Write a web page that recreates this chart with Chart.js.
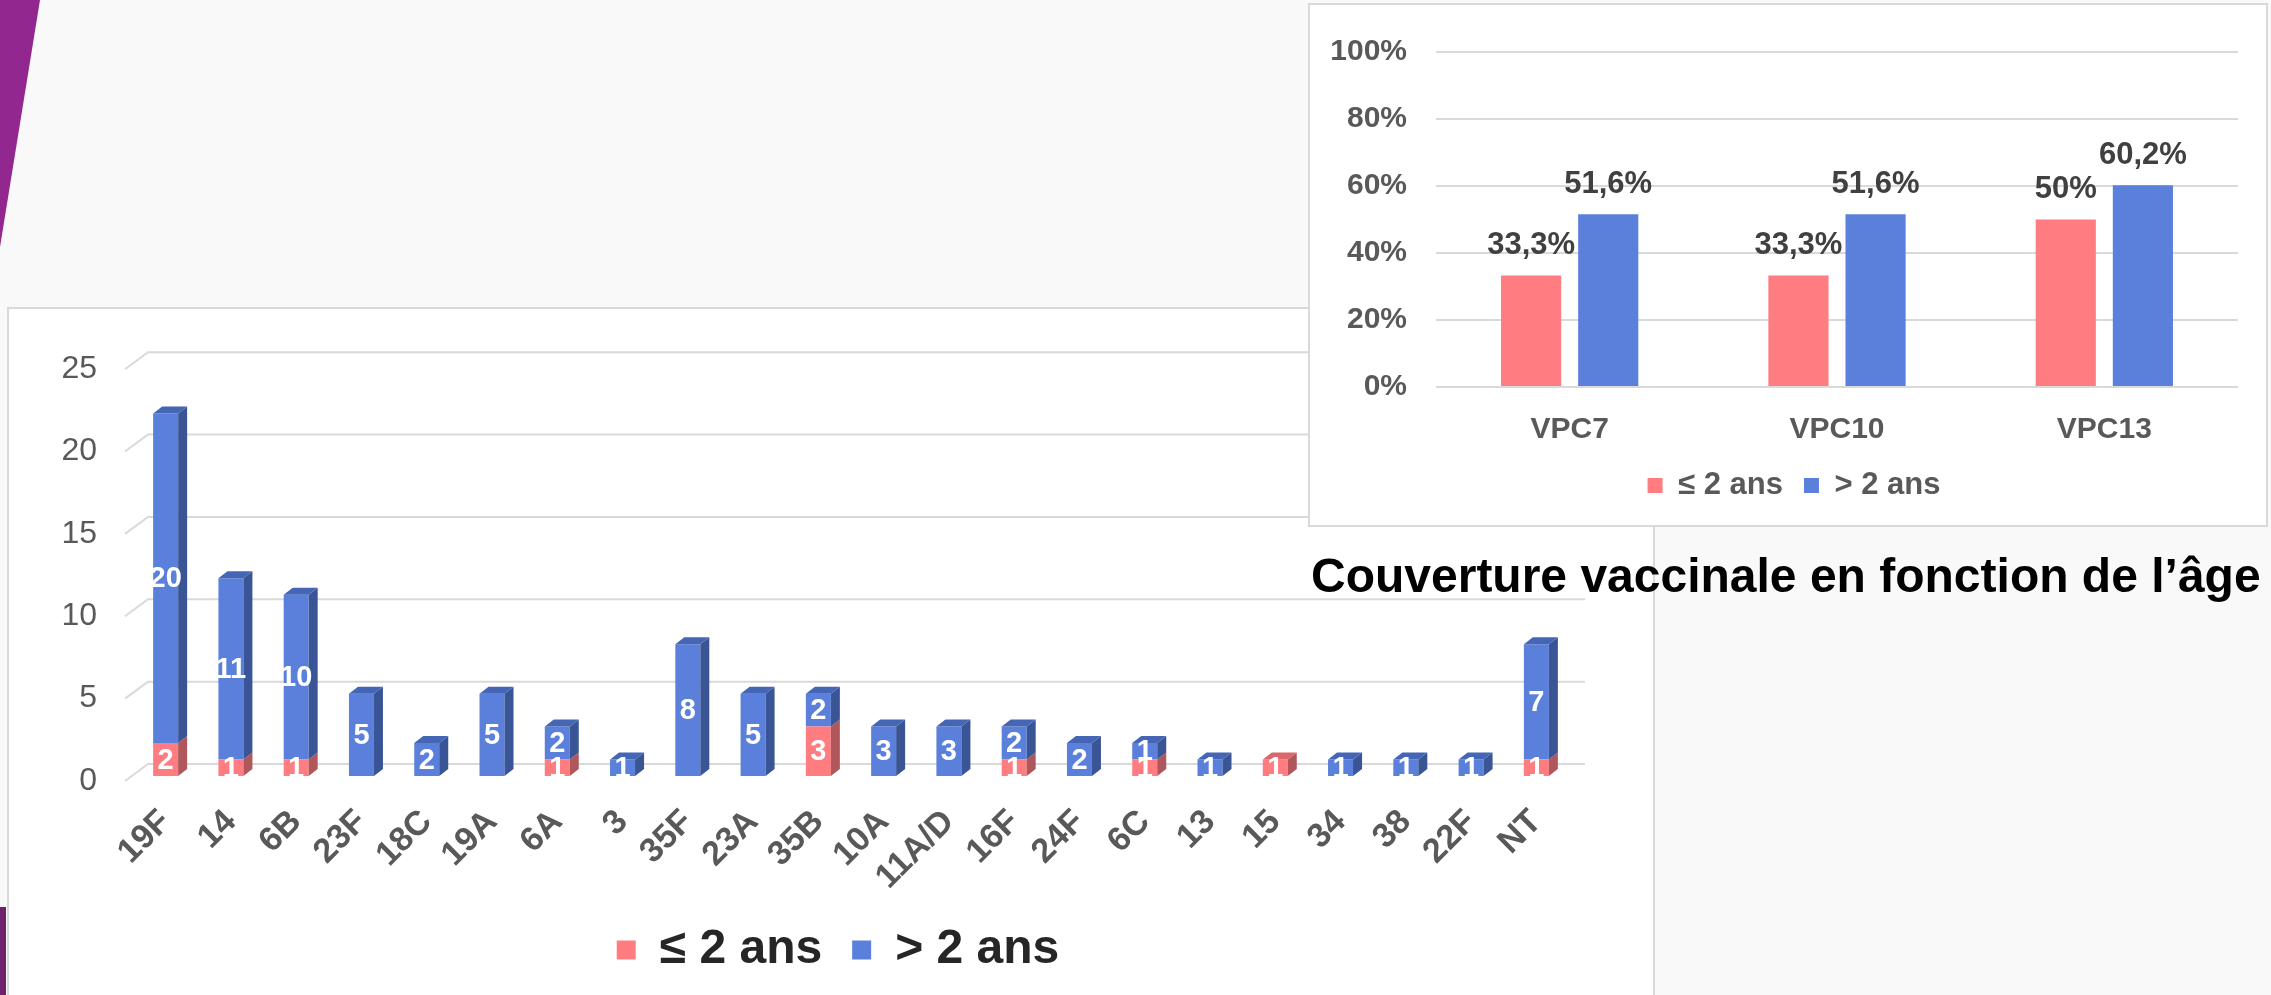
<!DOCTYPE html>
<html>
<head>
<meta charset="utf-8">
<script src="https://cdn.jsdelivr.net/npm/chart.js@4.4.0/dist/chart.umd.min.js"></script>
<style>
  body { margin: 0; width: 2271px; height: 995px; background: #f9f9f9; position: relative; overflow: hidden;
         font-family: "Liberation Sans", Arial, sans-serif; }
  .box { position: absolute; background: #fff; border: 2px solid #d9d9d9; box-sizing: border-box; }
  #leftBox { left: 7px; top: 307px; width: 1648px; height: 700px; z-index: 1; }
  #rightBox { left: 1308px; top: 3px; width: 960px; height: 524px; z-index: 2; }
  #leftWrap { position: absolute; left: 0; top: 0; width: 1644px; height: 686px; }
  #rightWrap { position: absolute; left: 0; top: 0; width: 956px; height: 520px; }
  #title { position: absolute; left: 1311px; top: 552px; line-height: 48px; font-size: 48px; font-weight: bold;
           color: #000; white-space: nowrap; z-index: 3; }
  #purpleTop { position: absolute; left: 0; top: 0; width: 40px; height: 247px; background: #92278f;
               clip-path: polygon(0 0, 100% 0, 0 100%); }
  #purpleBottom { position: absolute; left: 0; top: 907px; width: 6px; height: 88px; background: #6f216c; }
</style>
</head>
<body>
<div id="purpleTop"></div>
<div id="purpleBottom"></div>
<div class="box" id="leftBox"><div id="leftWrap"><canvas id="countChart"></canvas></div></div>
<div class="box" id="rightBox"><div id="rightWrap"><canvas id="coverChart"></canvas></div></div>
<div id="title">Couverture vaccinale en fonction de l’âge</div>
<script>
// serotypes, counts per age group
const categories = ['19F', '14', '6B', '23F', '18C', '19A', '6A', '3', '35F', '23A', '35B', '10A', '11A/D', '16F', '24F', '6C', '13', '15', '34', '38', '22F', 'NT'];
const under2 = [2, 1, 1, 0, 0, 0, 1, 0, 0, 0, 3, 0, 0, 1, 0, 1, 0, 1, 0, 0, 0, 1];
const over2 = [20, 11, 10, 5, 2, 5, 2, 1, 8, 5, 2, 3, 3, 2, 2, 1, 1, 0, 1, 1, 1, 7];
const countTicks = [0, 5, 10, 15, 20, 25];

// vaccine coverage (%)
const vaccines = ['VPC7', 'VPC10', 'VPC13'];
const coverUnder2 = [33.3, 33.3, 50];
const coverOver2 = [51.6, 51.6, 60.2];
const percentTicks = [0, 20, 40, 60, 80, 100];

const seriesNames = ['≤ 2 ans', '> 2 ans'];

Chart.defaults.font.family = '"Liberation Sans", Arial, sans-serif';

const PINK = '#FF7C80';
const BLUE = '#5B80DB';
const DEPTH_X = 9, DEPTH_Y = 7;

// slanted 3D gridlines for the left chart
const grid3d = {
  id: 'grid3d',
  beforeDatasetsDraw(chart) {
    const { ctx, chartArea, scales: { y } } = chart;
    ctx.save();
    ctx.strokeStyle = '#d9d9d9';
    ctx.lineWidth = 2;
    y.ticks.forEach(t => {
      const py = y.getPixelForValue(t.value);
      ctx.beginPath();
      ctx.moveTo(chartArea.left - 8, py + 5);
      ctx.lineTo(chartArea.left + 15, py - 12);
      ctx.lineTo(chartArea.right + 16, py - 12);
      ctx.stroke();
    });
    ctx.restore();
  }
};

// side / top faces + white value labels
const bar3d = {
  id: 'bar3d',
  afterDatasetsDraw(chart) {
    const ctx = chart.ctx;
    const n = chart.data.labels.length;
    const topDs = new Array(n).fill(-1);
    chart.data.datasets.forEach((ds, di) => ds.data.forEach((v, i) => { if (v > 0) topDs[i] = di; }));
    ctx.save();
    chart.data.datasets.forEach((ds, di) => {
      const meta = chart.getDatasetMeta(di);
      meta.data.forEach((bar, i) => {
        if (!ds.data[i]) return;
        const { x, y, base, width } = bar.getProps(['x', 'y', 'base', 'width'], true);
        const l = x - width / 2, r = x + width / 2;
        ctx.fillStyle = ds.sideColor;
        ctx.beginPath();
        ctx.moveTo(r, y);
        ctx.lineTo(r + DEPTH_X, y - DEPTH_Y);
        ctx.lineTo(r + DEPTH_X, base - DEPTH_Y);
        ctx.lineTo(r, base);
        ctx.closePath();
        ctx.fill();
        if (topDs[i] === di) {
          ctx.fillStyle = ds.topColor;
          ctx.beginPath();
          ctx.moveTo(l, y);
          ctx.lineTo(l + DEPTH_X, y - DEPTH_Y);
          ctx.lineTo(r + DEPTH_X, y - DEPTH_Y);
          ctx.lineTo(r, y);
          ctx.closePath();
          ctx.fill();
        }
      });
    });
    ctx.fillStyle = '#fff';
    ctx.font = 'bold 29px "Liberation Sans", Arial, sans-serif';
    ctx.textAlign = 'center';
    ctx.textBaseline = 'middle';
    chart.data.datasets.forEach((ds, di) => {
      chart.getDatasetMeta(di).data.forEach((bar, i) => {
        if (!ds.data[i]) return;
        const { x, y, base } = bar.getProps(['x', 'y', 'base'], true);
        ctx.fillText(ds.data[i], x, (y + base) / 2 + 1);
      });
    });
    ctx.restore();
  }
};

// percentage labels above bars for the right chart
const valueLabels = {
  id: 'valueLabels',
  afterDatasetsDraw(chart) {
    const ctx = chart.ctx;
    ctx.save();
    ctx.fillStyle = '#404040';
    ctx.font = 'bold 31px "Liberation Sans", Arial, sans-serif';
    ctx.textAlign = 'center';
    ctx.textBaseline = 'middle';
    chart.data.datasets.forEach((ds, di) => {
      chart.getDatasetMeta(di).data.forEach((bar, i) => {
        const txt = String(ds.data[i]).replace('.', ',') + '%';
        ctx.fillText(txt, bar.x, bar.y - 30);
      });
    });
    ctx.restore();
  }
};

// move the legend row so it is centred on a given x
const legendCenter = {
  id: 'legendCenter',
  afterLayout(chart, args, opts) {
    const lg = chart.legend;
    if (!lg || opts.center == null) return;
    const half = (lg.right - lg.left) / 2;
    lg.left = opts.center - half;
    lg.right = opts.center + half;
  }
};

new Chart(document.getElementById('countChart'), {
  type: 'bar',
  data: {
    labels: categories,
    datasets: [
      { label: seriesNames[0], data: under2, backgroundColor: PINK, sideColor: '#B0575B', topColor: '#D9676B' },
      { label: seriesNames[1], data: over2, backgroundColor: BLUE, sideColor: '#3A5595', topColor: '#4565B5' }
    ]
  },
  options: {
    responsive: true,
    maintainAspectRatio: false,
    animation: false,
    layout: { padding: { left: 0, right: 84, top: 50, bottom: 11 } },
    datasets: { bar: { categoryPercentage: 1, barPercentage: 0.383 } },
    scales: {
      x: {
        stacked: true,
        grid: { display: false, drawTicks: false },
        border: { display: false },
        ticks: { autoSkip: false, minRotation: 45, maxRotation: 45, padding: 26, color: '#595959',
                 font: { size: 34, weight: 'bold' } },
        afterFit: s => { s.height = 120; }
      },
      y: {
        stacked: true,
        min: 0,
        max: 25,
        afterBuildTicks: s => { s.ticks = countTicks.map(v => ({ value: v })); },
        grid: { display: false, drawTicks: false },
        border: { display: false },
        ticks: { padding: 36, labelOffset: 5, color: '#595959', font: { size: 32 } },
        afterFit: s => { s.width = 124; }
      }
    },
    plugins: {
      legend: {
        position: 'bottom',
        labels: { boxWidth: 19, boxHeight: 19, padding: 30, color: '#262626', font: { size: 48, weight: 'bold' } }
      },
      legendCenter: { center: 829 },
      tooltip: { enabled: false }
    }
  },
  plugins: [grid3d, bar3d, legendCenter]
});

new Chart(document.getElementById('coverChart'), {
  type: 'bar',
  data: {
    labels: vaccines,
    datasets: [
      { label: seriesNames[0], data: coverUnder2, backgroundColor: PINK },
      { label: seriesNames[1], data: coverOver2, backgroundColor: BLUE }
    ]
  },
  options: {
    responsive: true,
    maintainAspectRatio: false,
    animation: false,
    layout: { padding: { left: 0, right: 28, top: 30, bottom: 14 } },
    datasets: { bar: { categoryPercentage: 0.577, barPercentage: 0.78 } },
    scales: {
      x: {
        grid: { display: false, drawTicks: false },
        border: { display: false },
        ticks: { padding: 25, color: '#595959', font: { size: 30, weight: 'bold' } },
        afterFit: s => { s.height = 62; }
      },
      y: {
        min: 0,
        max: 100,
        afterBuildTicks: s => { s.ticks = percentTicks.map(v => ({ value: v })); },
        grid: { color: '#d9d9d9', lineWidth: 2, drawTicks: false },
        border: { display: false },
        ticks: { padding: 29, color: '#595959', font: { size: 30, weight: 'bold' }, callback: v => v + '%' },
        afterFit: s => { s.width = 126; }
      }
    },
    plugins: {
      legend: {
        position: 'bottom',
        labels: { boxWidth: 15, boxHeight: 15, padding: 21, color: '#595959', font: { size: 31, weight: 'bold' } }
      },
      legendCenter: { center: 484 },
      tooltip: { enabled: false }
    }
  },
  plugins: [valueLabels, legendCenter]
});
</script>
</body>
</html>
